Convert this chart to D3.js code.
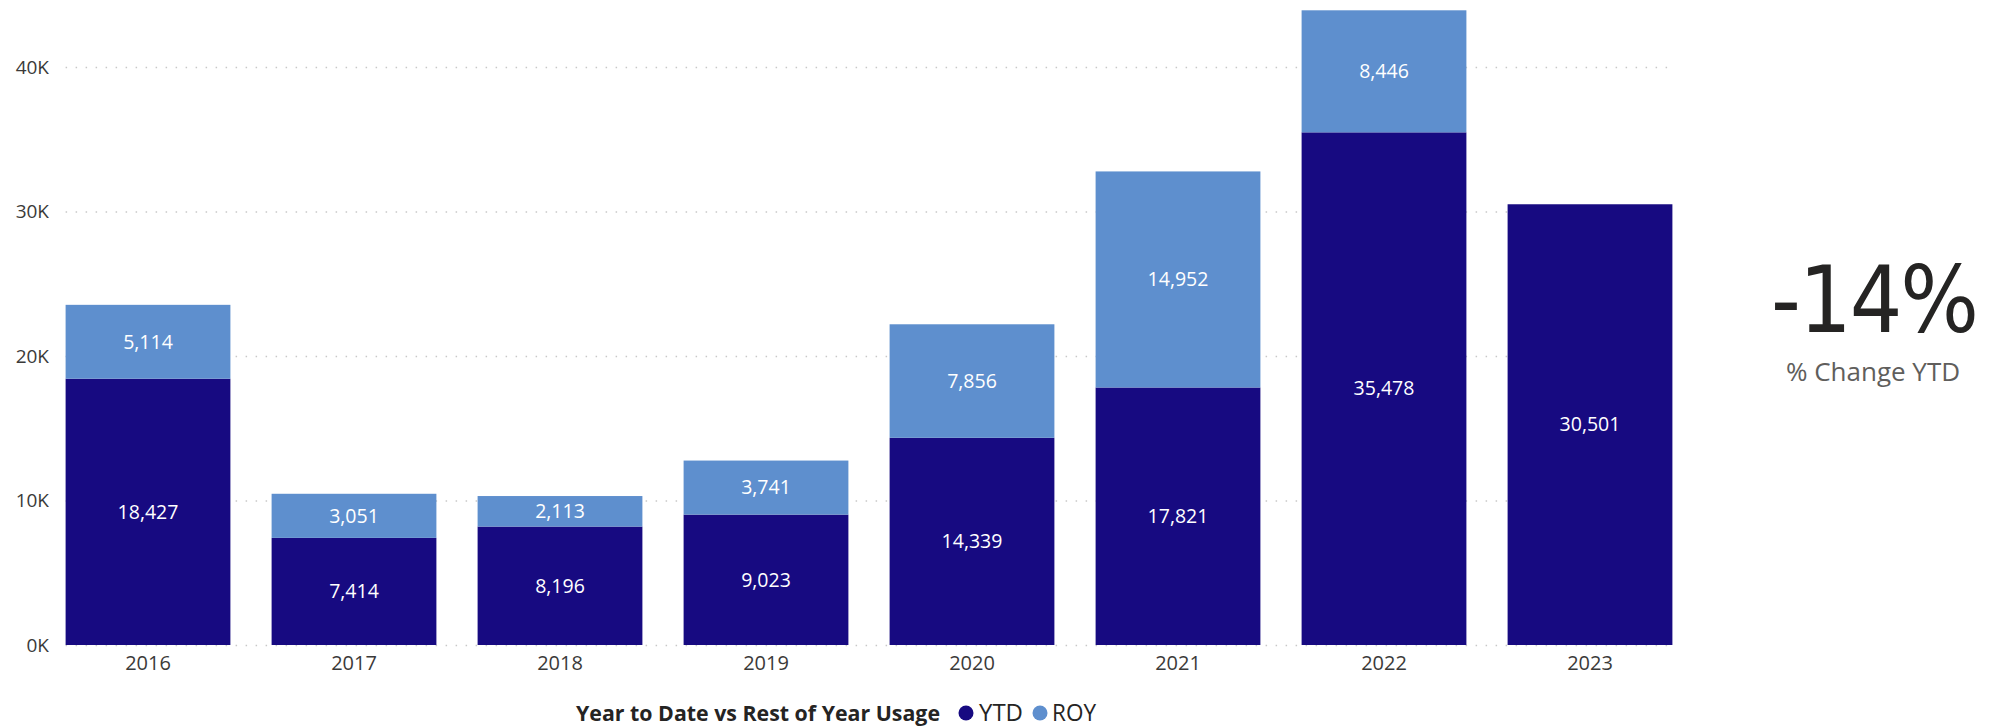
<!DOCTYPE html>
<html>
<head>
<meta charset="utf-8">
<script src="https://cdn.jsdelivr.net/npm/d3@7"></script>
<style>
  body { margin: 0; background: #fff; }
  text { font-family: "Segoe UI", "Open Sans", sans-serif; }
</style>
</head>
<body>
<script>
// chart data
var years = ["2016", "2017", "2018", "2019", "2020", "2021", "2022", "2023"];
var ytdValues = [18427, 7414, 8196, 9023, 14339, 17821, 35478, 30501];
var royValues = [5114, 3051, 2113, 3741, 7856, 14952, 8446, 0];
var yTicks = [0, 10000, 20000, 30000, 40000];
var seriesNames = ["YTD", "ROY"];
var kpiValue = "-14%";
var kpiLabel = "% Change YTD";
var legendTitle = "Year to Date vs Rest of Year Usage";

var width = 2006, height = 727;
var colors = { YTD: "#170a81", ROY: "#5e8fce" };

var svg = d3.select("body").append("svg")
    .attr("width", width)
    .attr("height", height);

var x = d3.scaleBand()
    .domain(years)
    .range([45, 1693])
    .paddingInner(0.2)
    .paddingOuter(0.1);

var y = d3.scaleLinear()
    .domain([0, 40000])
    .range([645, 67]);

// stack the two series
var rows = years.map(function(yr, i) { return { year: yr, YTD: ytdValues[i], ROY: royValues[i] }; });
var stacked = d3.stack().keys(seriesNames)(rows);

// dotted gridlines
var gridLeft = x(years[0]), gridRight = x(years[years.length - 1]) + x.bandwidth();
svg.append("g").selectAll("line")
    .data(yTicks)
    .enter().append("line")
    .attr("x1", gridLeft)
    .attr("x2", gridRight)
    .attr("y1", function(d) { return y(d) + 0.5; })
    .attr("y2", function(d) { return y(d) + 0.5; })
    .style("stroke", "#c8c8c8")
    .style("stroke-width", 1.5)
    .style("stroke-dasharray", "1.5,8.5");

// y axis labels
var yAxis = d3.axisLeft(y)
    .tickValues(yTicks)
    .tickSize(0)
    .tickPadding(0)
    .tickFormat(function(d) { return (d / 1000) + "K"; });
var yg = svg.append("g").attr("transform", "translate(49,0)").call(yAxis);
yg.select(".domain").remove();
yg.selectAll("text")
    .style("font-size", "19px")
    .style("fill", "#3b3a39")
    .style("font-family", "'Segoe UI', 'Open Sans', sans-serif");

// x axis labels
var xAxis = d3.axisBottom(x).tickSize(0).tickPadding(0);
var xg = svg.append("g").attr("transform", "translate(0,656)").call(xAxis);
xg.select(".domain").remove();
xg.selectAll("text")
    .style("font-size", "20px")
    .style("fill", "#3b3a39")
    .style("font-family", "'Segoe UI', 'Open Sans', sans-serif");

// bars
var layers = svg.append("g").selectAll("g")
    .data(stacked)
    .enter().append("g")
    .style("fill", function(d) { return colors[d.key]; });

layers.selectAll("rect")
    .data(function(d) { return d.filter(function(p) { return p[1] - p[0] > 0; }); })
    .enter().append("rect")
    .attr("x", function(d) { return x(d.data.year); })
    .attr("width", x.bandwidth())
    .attr("y", function(d) { return y(d[1]); })
    .attr("height", function(d) { return y(d[0]) - y(d[1]); });

// data labels centred in segments
layers.selectAll("text")
    .data(function(d) { return d.filter(function(p) { return p[1] - p[0] > 0; }); })
    .enter().append("text")
    .attr("x", function(d) { return x(d.data.year) + x.bandwidth() / 2; })
    .attr("y", function(d) { return (y(d[0]) + y(d[1])) / 2; })
    .attr("dy", "0.35em")
    .attr("text-anchor", "middle")
    .style("fill", "#fff")
    .style("font-size", "19.5px")
    .text(function(d) { return d3.format(",")(d[1] - d[0]); });

// legend
var legend = svg.append("g").attr("transform", "translate(0,713)");
legend.append("text")
    .attr("x", 576)
    .attr("dy", "0.35em")
    .style("font-size", "22px")
    .style("font-weight", "bold")
    .style("fill", "#252423")
    .attr("textLength", 364)
    .attr("lengthAdjust", "spacingAndGlyphs")
    .text(legendTitle);

var legendPos = [{ cx: 966, tx: 979 }, { cx: 1040, tx: 1052 }];
var items = legend.selectAll("g.item")
    .data(seriesNames)
    .enter().append("g").attr("class", "item");
items.append("circle")
    .attr("cx", function(d, i) { return legendPos[i].cx; })
    .attr("r", 7.5)
    .style("fill", function(d) { return colors[d]; });
items.append("text")
    .attr("x", function(d, i) { return legendPos[i].tx; })
    .attr("dy", "0.35em")
    .style("font-size", "23px")
    .style("fill", "#252423")
    .attr("textLength", 44)
    .attr("lengthAdjust", "spacingAndGlyphs")
    .text(function(d) { return d; });

// KPI card
svg.append("text")
    .attr("x", 1875)
    .attr("y", 332)
    .attr("text-anchor", "middle")
    .style("font-family", "'DejaVu Sans Condensed', 'DejaVu Sans', sans-serif")
    .style("font-size", "92px")
    .style("fill", "#252423")
    .attr("textLength", 208)
    .attr("lengthAdjust", "spacing")
    .text(kpiValue);

svg.append("text")
    .attr("x", 1873)
    .attr("y", 381)
    .attr("text-anchor", "middle")
    .style("font-size", "26px")
    .style("fill", "#605e5c")
    .text(kpiLabel);
</script>
</body>
</html>
